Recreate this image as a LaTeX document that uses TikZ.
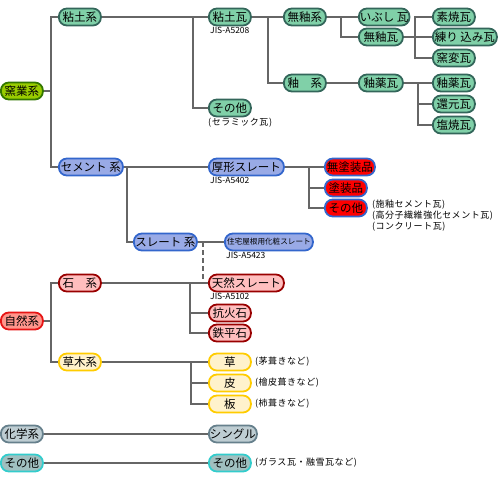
\documentclass[tikz,border=0pt]{standalone}
\usepackage{fontspec}
\newfontfamily\jp{Noto Sans CJK JP}
\newfontfamily\jpnote[LetterSpace=6]{Noto Sans CJK JP}
\usetikzlibrary{positioning}
\definecolor{linegray}{RGB}{102,102,102}
\definecolor{yogyofill}{RGB}{153,204,0}
\definecolor{yogyoline}{RGB}{51,119,0}
\definecolor{clayfill}{RGB}{128,208,168}
\definecolor{clayline}{RGB}{51,102,90}
\definecolor{cemfill}{RGB}{153,170,230}
\definecolor{cemline}{RGB}{51,102,204}
\definecolor{redfill}{RGB}{255,0,0}
\definecolor{stonefill}{RGB}{255,190,190}
\definecolor{stoneline}{RGB}{153,0,0}
\definecolor{natfill}{RGB}{255,150,140}
\definecolor{natline}{RGB}{230,20,20}
\definecolor{plantfill}{RGB}{255,242,204}
\definecolor{plantline}{RGB}{255,204,0}
\definecolor{chemfill}{RGB}{190,205,210}
\definecolor{chemline}{RGB}{102,128,140}
\definecolor{etcfill}{RGB}{160,192,192}
\definecolor{etcline}{RGB}{51,204,204}

\begin{document}
\begin{tikzpicture}[x=1pt,y=-1pt,
  block/.style={draw,rounded corners=8pt,line width=1.8pt,minimum height=17pt,
    minimum width=42pt,inner sep=1pt,anchor=west,font=\jp\fontsize{11.5}{11.5}\selectfont},
  yogyo/.style={block,fill=yogyofill,draw=yogyoline},
  clay/.style={block,fill=clayfill,draw=clayline},
  cem/.style={block,fill=cemfill,draw=cemline},
  paint/.style={block,fill=redfill,draw=cemline},
  stone/.style={block,fill=stonefill,draw=stoneline},
  nat/.style={block,fill=natfill,draw=natline},
  plant/.style={block,fill=plantfill,draw=plantline},
  chem/.style={block,fill=chemfill,draw=chemline},
  other/.style={block,fill=etcfill,draw=etcline},
  jis/.style={inner sep=0pt,font=\jp\fontsize{8.5}{9}\selectfont},
  note/.style={inner sep=0pt,anchor=west,font=\jpnote\fontsize{9}{11}\selectfont},
  link/.style={draw=linegray,line width=2pt}]

  \useasboundingbox (0,0) rectangle (500,500);

  % clay
  \node[yogyo] (yogyo) at (0,91) {窯業系};
  \node[clay] (nendo) at (58,17) {粘土系};
  \node[clay] (nendogawara) at (208,17) {粘土瓦};
  \node[jis,below=1pt of nendogawara.south west,anchor=north west,xshift=2pt] (jis1) {JIS-A5208};
  \node[clay] (mueki) at (283,17) {無釉系};
  \node[clay,minimum width=44pt] (ibushi) at (358,17) {いぶし 瓦};
  \node[clay,minimum width=44pt] (muekigawara) at (358,37) {無釉瓦};
  \node[clay] (suyaki) at (432,17) {素焼瓦};
  \node[clay,minimum width=64pt] (nerikomi) at (432,37) {練り 込み瓦};
  \node[clay] (yohen) at (432,58) {窯変瓦};
  \node[clay] (yu) at (283,83) {釉　系};
  \node[clay,minimum width=44pt] (yuyaku) at (358,83) {釉薬瓦};
  \node[clay] (yuyakugawara) at (432,83) {釉薬瓦};
  \node[clay] (kangen) at (432,104) {還元瓦};
  \node[clay] (shioyaki) at (432,125) {塩焼瓦};
  \node[clay] (nendoetc) at (208,108) {その他};
  \node[note,below=1pt of nendoetc.south west,anchor=north west] {(セラミック瓦)};

  % cement
  \node[cem,minimum width=64pt] (cement) at (58,167) {セメント 系};
  \node[cem,minimum width=75pt] (atsugata) at (208,167) {厚形スレート};
  \node[jis,below=1pt of atsugata.south west,anchor=north west,xshift=2pt] {JIS-A5402};
  \node[paint,minimum width=50pt] (mutoso) at (324,167) {無塗装品};
  \node[paint] (toso) at (324,188) {塗装品};
  \node[paint] (cementetc) at (324,208) {その他};
  \node[note,anchor=north west,align=left] at ([xshift=4pt,yshift=-1pt]cementetc.north east)
    {(施釉セメント瓦)\\(高分子繊維強化セメント瓦)\\(コンクリート瓦)};
  \node[cem,minimum width=88pt,font=\jp\fontsize{7.6}{8}\selectfont] (jutaku) at (224,242) {住宅屋根用化粧スレート};
  \node[cem,minimum width=63pt] (slate) at (133,242) {スレート 系};
  \node[jis,below=1pt of jutaku.south west,anchor=north west,xshift=2pt] {JIS-A5423};

  % natural
  \node[nat] (shizen) at (0,321) {自然系};
  \node[stone] (ishi) at (58,283) {石　系};
  \node[stone,minimum width=75pt] (tennen) at (208,283) {天然スレート};
  \node[jis,below=1pt of tennen.south west,anchor=north west,xshift=2pt] {JIS-A5102};
  \node[stone] (kokaseki) at (208,313) {抗火石};
  \node[stone] (teppeiseki) at (208,333) {鉄平石};
  \node[plant] (somoku) at (58,362) {草木系};
  \node[plant] (kusa) at (208,362) {草};
  \node[note,right=3pt of kusa] {(茅葺きなど)};
  \node[plant] (kawa) at (208,383) {皮};
  \node[note,right=3pt of kawa] {(檜皮葺きなど)};
  \node[plant] (ita) at (208,404) {板};
  \node[note,right=3pt of ita] {(柿葺きなど)};

  % chemical, other
  \node[chem] (kagaku) at (0,434) {化学系};
  \node[chem] (shingle) at (208,434) {シングル};
  \node[other] (etc) at (0,463) {その他};
  \node[other] (etcb) at (208,463) {その他};
  \node[note,right=3pt of etcb] {(ガラス瓦・融雪瓦など)};

  % junctions
  \coordinate (j0) at (51,91);
  \coordinate (j1) at (193,17);
  \coordinate (j2) at (268,17);
  \coordinate (j3) at (341,17);
  \coordinate (j4) at (415,37);
  \coordinate (j5) at (418,83);
  \coordinate (j6) at (127,167);
  \coordinate (j7) at (309,167);
  \coordinate (j8) at (203,242);
  \coordinate (j9) at (51,321);
  \coordinate (j10) at (190,283);
  \coordinate (j11) at (191,362);

  \draw[link] (yogyo.east) -- (j0);
  \draw[link] (nendo.west) -| (j0) |- (cement.west);
  \draw[link] (nendo.east) -- (nendogawara.west);
  \draw[link] (j1) |- (nendoetc.west);
  \draw[link] (nendogawara.east) -- (mueki.west);
  \draw[link] (j2) |- (yu.west);
  \draw[link] (mueki.east) -- (ibushi.west);
  \draw[link] (j3) |- (muekigawara.west);
  \draw[link] (muekigawara.east) -- (nerikomi.west);
  \draw[link] (suyaki.west) -| (j4) |- (yohen.west);
  \draw[link] (yu.east) -- (yuyaku.west);
  \draw[link] (yuyaku.east) -- (yuyakugawara.west);
  \draw[link] (j5) |- (kangen.west);
  \draw[link] (j5) |- (shioyaki.west);
  \draw[link] (cement.east) -- (atsugata.west);
  \draw[link] (j6) |- (slate.west);
  \draw[link] (atsugata.east) -- (mutoso.west);
  \draw[link] (j7) |- (toso.west);
  \draw[link] (j7) |- (cementetc.west);
  \draw[link] (slate.east) -- (jutaku.west);
  \draw[link,dash pattern=on 5pt off 3pt] (j8) -- (j8 |- tennen.west);
  \draw[link] (shizen.east) -- (j9);
  \draw[link] (ishi.west) -| (j9) |- (somoku.west);
  \draw[link] (ishi.east) -- (tennen.west);
  \draw[link] (j10) |- (kokaseki.west);
  \draw[link] (j10) |- (teppeiseki.west);
  \draw[link] (somoku.east) -- (kusa.west);
  \draw[link] (j11) |- (kawa.west);
  \draw[link] (j11) |- (ita.west);
  \draw[link] (kagaku.east) -- (shingle.west);
  \draw[link] (etc.east) -- (etcb.west);
\end{tikzpicture}
\end{document}
